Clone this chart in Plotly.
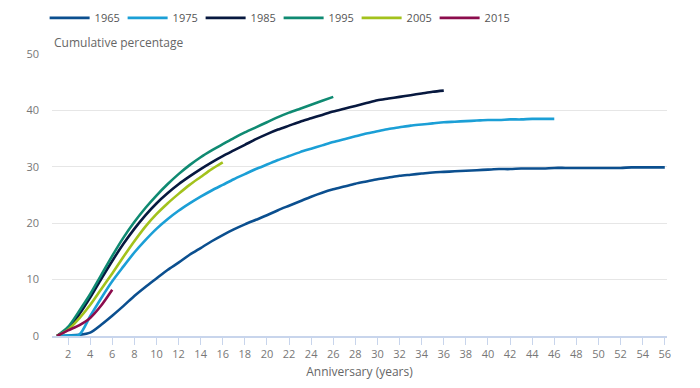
import plotly.graph_objects as go

years_1965 = list(range(1, 57))
vals_1965 = [0, 0.1, 0.2, 0.6, 2.0, 3.6, 5.3, 7.1, 8.7, 10.2,
             11.7, 13.0, 14.4, 15.6, 16.8, 17.9, 18.9, 19.8, 20.6, 21.4,
             22.3, 23.1, 23.9, 24.7, 25.4, 26.0, 26.5, 27.0, 27.4, 27.8,
             28.1, 28.4, 28.6, 28.8, 29.0, 29.1, 29.2, 29.3, 29.4, 29.5,
             29.6, 29.6, 29.7, 29.7, 29.7, 29.8, 29.8, 29.8, 29.8, 29.8,
             29.8, 29.8, 29.9, 29.9, 29.9, 29.9]

years_1975 = list(range(1, 47))
vals_1975 = [0, 0.1, 0.2, 3.5, 6.7, 9.7, 12.3, 14.8, 17.0, 19.0,
             20.7, 22.2, 23.5, 24.7, 25.8, 26.8, 27.8, 28.7, 29.6, 30.4,
             31.2, 31.9, 32.6, 33.2, 33.8, 34.4, 34.9, 35.4, 35.9, 36.3,
             36.7, 37.0, 37.3, 37.5, 37.7, 37.9, 38.0, 38.1, 38.2, 38.3,
             38.3, 38.4, 38.4, 38.5, 38.5, 38.5]

years_1985 = list(range(1, 37))
vals_1985 = [0, 1.3, 3.8, 6.8, 10.1, 13.3, 16.3, 19.0, 21.4, 23.5,
             25.3, 26.9, 28.3, 29.6, 30.8, 31.9, 32.9, 33.9, 34.9, 35.8,
             36.6, 37.3, 38.0, 38.6, 39.2, 39.8, 40.3, 40.8, 41.3, 41.8,
             42.1, 42.4, 42.7, 43.0, 43.3, 43.5]

years_1995 = list(range(1, 27))
vals_1995 = [0, 1.6, 4.4, 7.4, 10.8, 14.2, 17.4, 20.2, 22.7, 24.9,
             26.9, 28.7, 30.3, 31.7, 32.9, 34.0, 35.1, 36.1, 37.0, 37.9,
             38.8, 39.6, 40.3, 41.0, 41.7, 42.4]

years_2005 = list(range(1, 17))
vals_2005 = [0, 1.1, 3.1, 5.5, 8.3, 11.1, 14.0, 16.8, 19.4, 21.6,
             23.5, 25.2, 26.8, 28.2, 29.6, 30.8]

years_2015 = list(range(1, 7))
vals_2015 = [0, 1.0, 1.9, 3.2, 5.4, 8.2]

series = [
    ("1965", years_1965, vals_1965, "#0b4f8f"),
    ("1975", years_1975, vals_1975, "#1b9fd6"),
    ("1985", years_1985, vals_1985, "#07183f"),
    ("1995", years_1995, vals_1995, "#0f8a72"),
    ("2005", years_2005, vals_2005, "#a3c21c"),
    ("2015", years_2015, vals_2015, "#8c0c4d"),
]

x_ticks = list(range(2, 57, 2))
y_ticks = [0, 10, 20, 30, 40, 50]

fig = go.Figure()
for name, xs, ys, color in series:
    fig.add_trace(go.Scatter(x=xs, y=ys, name=name, mode="lines",
                             line=dict(color=color, width=2.6, shape="spline", smoothing=0.8)))

font_family = "Open Sans"
fig.update_layout(
    width=692, height=380,
    margin=dict(l=44, r=33, t=46, b=52, autoexpand=False),
    paper_bgcolor="white", plot_bgcolor="white",
    font=dict(family=font_family, size=12, color="#666666"),
    showlegend=True,
    legend=dict(orientation="h", x=-0.012, xanchor="left", y=1.128, yanchor="middle",
                font=dict(size=11, color="#555555"), entrywidth=23, entrywidthmode="pixels",
                itemwidth=40, traceorder="normal", bgcolor="rgba(0,0,0,0)"),
    xaxis=dict(range=[0.55, 56.2], tickmode="array", tickvals=x_ticks,
               ticktext=[str(v) for v in x_ticks],
               showgrid=False, zeroline=False, showline=True, linecolor="#c8d5ec", linewidth=1.5,
               ticks="outside", ticklen=7, tickcolor="#c8d5ec", tickwidth=1,
               tickfont=dict(size=11, color="#777777"),
               title=dict(text="Anniversary (years)", font=dict(size=12, color="#666666"), standoff=8)),
    yaxis=dict(range=[0, 50], tickmode="array", tickvals=y_ticks,
               showgrid=True, gridcolor="#e6e6e6", gridwidth=1, zeroline=False, showline=False,
               ticks="", ticklabelstandoff=12,
               tickfont=dict(size=11, color="#777777")),
    annotations=[dict(text="Cumulative percentage", xref="paper", yref="paper",
                      x=0, y=1.0, xanchor="left", yanchor="bottom", yshift=1, showarrow=False,
                      font=dict(size=12, color="#666666"))],
)

fig.write_html("out.html")
